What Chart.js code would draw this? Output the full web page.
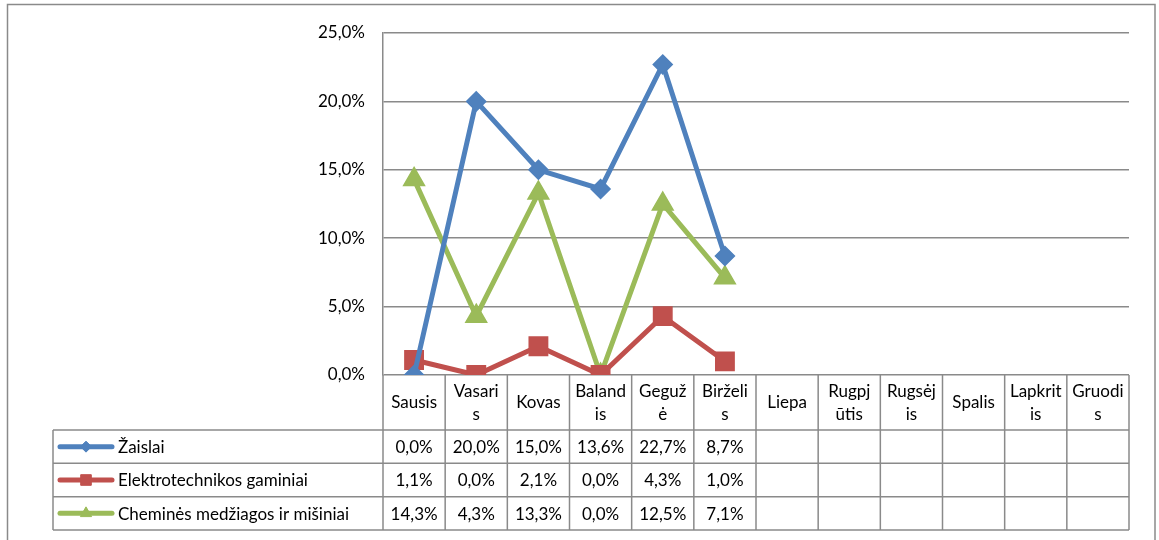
<!DOCTYPE html>
<html>
<head>
<meta charset="utf-8">
<script src="https://cdn.jsdelivr.net/npm/chart.js@4/dist/chart.umd.min.js"></script>
<style>
  html, body { margin: 0; padding: 0; background: #fff; }
  #wrap { width: 1159px; height: 540px; position: relative; }
</style>
</head>
<body>
<div id="wrap"><canvas id="c" width="1159" height="540"></canvas></div>
<script>
// ---- data ----
const months = ['Sausis','Vasaris','Kovas','Balandis','Gegužė','Birželis','Liepa','Rugpjūtis','Rugsėjis','Spalis','Lapkritis','Gruodis'];
const monthLabels = [['Sausis'],['Vasari','s'],['Kovas'],['Baland','is'],['Geguž','ė'],['Birželi','s'],['Liepa'],['Rugpj','ūtis'],['Rugsėj','is'],['Spalis'],['Lapkrit','is'],['Gruodi','s']];
const seriesNames = ['Žaislai','Elektrotechnikos gaminiai','Cheminės medžiagos ir mišiniai'];
const zaislai = [0.0, 20.0, 15.0, 13.6, 22.7, 8.7, null, null, null, null, null, null];
const elektro = [1.1, 0.0, 2.1, 0.0, 4.3, 1.0, null, null, null, null, null, null];
const chemines = [14.3, 4.3, 13.3, 0.0, 12.5, 7.1, null, null, null, null, null, null];
const yTicks = [0, 5, 10, 15, 20, 25];

const colors = ['#4F81BD', '#C0504D', '#9BBB59'];
const styles = ['rectRot', 'rect', 'triangle'];
const radii = [9.5, 13, 12];
const legendRadii = [5.5, 7.5, 6.5];
const FONT = 'Lato, "Liberation Sans", sans-serif';
const GRID = '#8a8a8a';

function fmt(v) { return v.toFixed(1).replace('.', ',') + '%'; }

const tablePlugin = {
  id: 'tablePlugin',
  afterDraw(chart) {
    const ctx = chart.ctx;
    const xs = chart.scales.x;
    const area = chart.chartArea;
    const rowTops = [area.bottom, 430, 463.3, 496.7, 530];
    const legendLeft = 53;
    ctx.save();
    // outer frame
    ctx.strokeStyle = GRID;
    ctx.lineWidth = 1.5;
    ctx.strokeRect(7.5, 4.5, 1147.5, 600);

    const n = months.length;
    const half = (xs.getPixelForValue(1) - xs.getPixelForValue(0)) / 2;
    const bounds = [];
    for (let i = 0; i < n; i++) bounds.push(xs.getPixelForValue(i) - half);
    bounds.push(xs.getPixelForValue(n - 1) + half);

    // vertical lines
    ctx.beginPath();
    for (let i = 0; i < bounds.length; i++) {
      ctx.moveTo(bounds[i], rowTops[0]);
      ctx.lineTo(bounds[i], rowTops[4]);
    }
    ctx.moveTo(legendLeft, rowTops[1]);
    ctx.lineTo(legendLeft, rowTops[4]);
    // horizontal lines
    for (let r = 1; r < rowTops.length; r++) {
      ctx.moveTo(legendLeft, rowTops[r]);
      ctx.lineTo(bounds[bounds.length - 1], rowTops[r]);
    }
    ctx.stroke();

    ctx.fillStyle = '#000';
    ctx.font = '17px ' + FONT;
    ctx.textAlign = 'center';
    ctx.textBaseline = 'middle';
    // header labels
    for (let i = 0; i < n; i++) {
      const cx = xs.getPixelForValue(i);
      const lines = monthLabels[i];
      if (lines.length === 1) {
        ctx.fillText(lines[0], cx, 403);
      } else {
        ctx.fillText(lines[0], cx, 392);
        ctx.fillText(lines[1], cx, 415);
      }
    }
    // values
    chart.data.datasets.forEach((ds, r) => {
      const cy = (rowTops[r + 1] + rowTops[r + 2]) / 2 + 1;
      ds.data.forEach((v, i) => {
        if (v === null) return;
        ctx.fillText(fmt(v), xs.getPixelForValue(i), cy);
      });
      // legend key
      ctx.strokeStyle = ds.borderColor;
      ctx.lineWidth = 5;
      ctx.lineCap = 'round';
      ctx.beginPath();
      ctx.moveTo(60, cy - 1);
      ctx.lineTo(112, cy - 1);
      ctx.stroke();
      ctx.lineWidth = 1;
      ctx.lineCap = 'butt';
      ctx.fillStyle = ds.borderColor;
      Chart.helpers.drawPoint(ctx, {
        pointStyle: ds.pointStyle,
        radius: legendRadii[r],
        rotation: 0,
        borderWidth: 1
      }, 86, cy - 1);
      ctx.fillStyle = '#000';
      ctx.textAlign = 'left';
      ctx.fillText(seriesNames[r], 118, cy);
      ctx.textAlign = 'center';
    });
    ctx.restore();
  }
};

const datasets = [zaislai, elektro, chemines].map((d, i) => ({
  label: seriesNames[i],
  data: d,
  borderColor: colors[i],
  backgroundColor: colors[i],
  borderWidth: 5,
  pointStyle: styles[i],
  pointRadius: radii[i],
  pointBorderWidth: 1.5,
  pointBackgroundColor: colors[i],
  pointBorderColor: colors[i],
  tension: 0,
  fill: false
}));

new Chart(document.getElementById('c'), {
  type: 'line',
  data: { labels: months, datasets },
  options: {
    responsive: false,
    animation: false,
    events: [],
    layout: { padding: { left: 0, top: 33, right: 30, bottom: 165 } },
    plugins: { legend: { display: false }, tooltip: { enabled: false } },
    scales: {
      x: {
        display: false,
        offset: true
      },
      y: {
        min: 0, max: 25,
        afterFit(scale) { scale.width = 383; },
        afterBuildTicks(scale) { scale.ticks = yTicks.map(v => ({ value: v })); },
        grid: { color: GRID, lineWidth: 1.5, drawTicks: false },
        border: { color: GRID, width: 1.5 },
        ticks: {
          padding: 18,
          color: '#000',
          font: { family: FONT, size: 17 },
          callback: v => fmt(v)
        }
      }
    }
  },
  plugins: [tablePlugin]
});
</script>
</body>
</html>
